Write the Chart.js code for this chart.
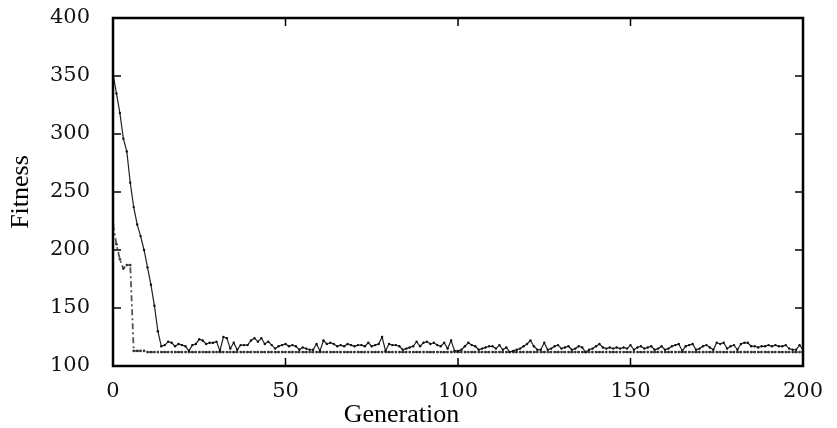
<!DOCTYPE html>
<html>
<head>
<meta charset="utf-8">
<script src="https://cdn.jsdelivr.net/npm/chart.js@4.4.1/dist/chart.umd.min.js"></script>
<style>
  html, body { margin: 0; padding: 0; background: #fff; }
  #wrap { width: 837px; height: 428px; }
</style>
</head>
<body>
<div id="wrap"><canvas id="chart" width="837" height="428"></canvas></div>
<script>
// generation index (x)
const generations = Array.from({ length: 201 }, (_, i) => i);

const solidFitness = [
  352, 335, 318, 296, 285, 258, 237, 222, 212, 200,
  185, 170, 152, 130, 117, 118, 121, 120, 117, 119,
  118, 117, 113, 118, 119, 123, 122, 119, 120, 120,
  121, 113, 125, 124, 115, 120, 114, 118, 118, 118,
  122, 124, 121, 124, 119, 121, 118, 115, 117, 118,
  119, 117, 118, 117, 114, 116, 115, 114, 114, 119,
  113, 122, 119, 120, 119, 117, 118, 117, 119, 118,
  117, 118, 118, 117, 120, 117, 118, 119, 125, 113,
  119, 118, 118, 117, 114, 115, 116, 117, 121, 117,
  120, 121, 119, 120, 118, 117, 120, 115, 122, 113,
  113, 114, 117, 120, 118, 117, 114, 115, 116, 117,
  117, 115, 118, 114, 116, 112, 113, 114, 115, 117,
  119, 122, 117, 114, 114, 120, 114, 115, 117, 118,
  115, 116, 117, 114, 115, 117, 116, 112, 114, 115,
  117, 119, 116, 115, 116, 115, 116, 115, 116, 115,
  118, 114, 116, 117, 115, 116, 117, 114, 115, 117,
  114, 115, 117, 118, 119, 113, 117, 118, 119, 114,
  115, 117, 118, 116, 114, 120, 119, 120, 115, 117,
  118, 114, 119, 120, 120, 117, 117, 116, 117, 117,
  118, 117, 118, 117, 117, 118, 115, 114, 114, 118,
  114
];

// dash-dot line: best fitness, gen 0..200
const bestFitness = [
  222, 205, 192, 184, 187, 187, 113, 113, 113, 113,
  112, 112, 112, 112, 112, 112, 112, 112, 112, 112,
  112, 112, 112, 112, 112, 112, 112, 112, 112, 112,
  112, 112, 112, 112, 112, 112, 112, 112, 112, 112,
  112, 112, 112, 112, 112, 112, 112, 112, 112, 112,
  112, 112, 112, 112, 112, 112, 112, 112, 112, 112,
  112, 112, 112, 112, 112, 112, 112, 112, 112, 112,
  112, 112, 112, 112, 112, 112, 112, 112, 112, 112,
  112, 112, 112, 112, 112, 112, 112, 112, 112, 112,
  112, 112, 112, 112, 112, 112, 112, 112, 112, 112,
  112, 112, 112, 112, 112, 112, 112, 112, 112, 112,
  112, 112, 112, 112, 112, 112, 112, 112, 112, 112,
  112, 112, 112, 112, 112, 112, 112, 112, 112, 112,
  112, 112, 112, 112, 112, 112, 112, 112, 112, 112,
  112, 112, 112, 112, 112, 112, 112, 112, 112, 112,
  112, 112, 112, 112, 112, 112, 112, 112, 112, 112,
  112, 112, 112, 112, 112, 112, 112, 112, 112, 112,
  112, 112, 112, 112, 112, 112, 112, 112, 112, 112,
  112, 112, 112, 112, 112, 112, 112, 112, 112, 112,
  112, 112, 112, 112, 112, 112, 112, 112, 112, 112,
  112
];

const xTicks = [0, 50, 100, 150, 200];
const yTicks = [100, 150, 200, 250, 300, 350, 400];

// gnuplot-like frame with inward ticks on all four sides
const framePlugin = {
  id: 'frame',
  afterDraw(chart) {
    const { ctx, chartArea: a, scales } = chart;
    const len = 8;
    ctx.save();
    ctx.strokeStyle = '#000';
    ctx.lineWidth = 1.5;
    ctx.beginPath();
    xTicks.forEach(v => {
      const x = scales.x.getPixelForValue(v);
      ctx.moveTo(x, a.bottom); ctx.lineTo(x, a.bottom - len);
      ctx.moveTo(x, a.top); ctx.lineTo(x, a.top + len);
    });
    yTicks.forEach(v => {
      const y = scales.y.getPixelForValue(v);
      ctx.moveTo(a.left, y); ctx.lineTo(a.left + len, y);
      ctx.moveTo(a.right, y); ctx.lineTo(a.right - len, y);
    });
    ctx.stroke();
    ctx.lineWidth = 2.5;
    ctx.strokeRect(a.left, a.top, a.right - a.left, a.bottom - a.top);
    ctx.restore();
  }
};

const ctx = document.getElementById('chart').getContext('2d');
new Chart(ctx, {
  type: 'line',
  data: {
    datasets: [
      {
        label: 'solid',
        data: generations.map((g, i) => ({ x: g, y: solidFitness[i] })),
        borderColor: '#222',
        borderWidth: 1.2,
        pointRadius: 1.2,
        pointBackgroundColor: '#111',
        pointBorderWidth: 0,
        tension: 0
      },
      {
        label: 'dashdot',
        data: generations.map((g, i) => ({ x: g, y: bestFitness[i] })),
        borderColor: '#555',
        borderWidth: 1.8,
        borderDash: [6, 3, 2, 3],
        pointRadius: 1.3,
        pointBackgroundColor: '#333',
        pointBorderWidth: 0,
        tension: 0
      }
    ]
  },
  options: {
    responsive: false,
    animation: false,
    layout: { padding: { left: 0, right: 34, top: 18, bottom: 0 } },
    plugins: {
      legend: { display: false },
      tooltip: { enabled: false },
      title: {
        display: true,
        text: 'Generation',
        position: 'bottom',
        color: '#000',
        font: { family: '"Liberation Serif", "Times New Roman", serif', size: 26, weight: 'normal', lineHeight: 1 },
        padding: { top: 0, bottom: 0 }
      }
    },
    scales: {
      x: {
        type: 'linear',
        min: 0,
        max: 200,
        afterFit(scale) {
          scale.height = 36;
          scale.paddingLeft = 0;
          scale.paddingRight = 0;
        },
        afterBuildTicks(scale) { scale.ticks = xTicks.map(v => ({ value: v })); },
        grid: { display: false, drawTicks: false },
        border: { display: false },
        ticks: {
          padding: 13,
          color: '#111',
          maxRotation: 0,
          font: { family: '"DejaVu Serif", serif', size: 21 }
        }
      },
      y: {
        min: 100,
        max: 400,
        afterFit(scale) {
          scale.width = 113;
          scale.paddingTop = 0;
          scale.paddingBottom = 0;
        },
        afterBuildTicks(scale) { scale.ticks = yTicks.map(v => ({ value: v })); },
        grid: { display: false, drawTicks: false },
        border: { display: false },
        title: {
          display: true,
          text: 'Fitness',
          color: '#000',
          font: { family: '"Liberation Serif", "Times New Roman", serif', size: 26 },
          padding: { top: 6, bottom: 0 }
        },
        ticks: {
          padding: 23,
          color: '#111',
          font: { family: '"DejaVu Serif", serif', size: 21 }
        }
      }
    }
  },
  plugins: [framePlugin]
});
</script>
</body>
</html>
